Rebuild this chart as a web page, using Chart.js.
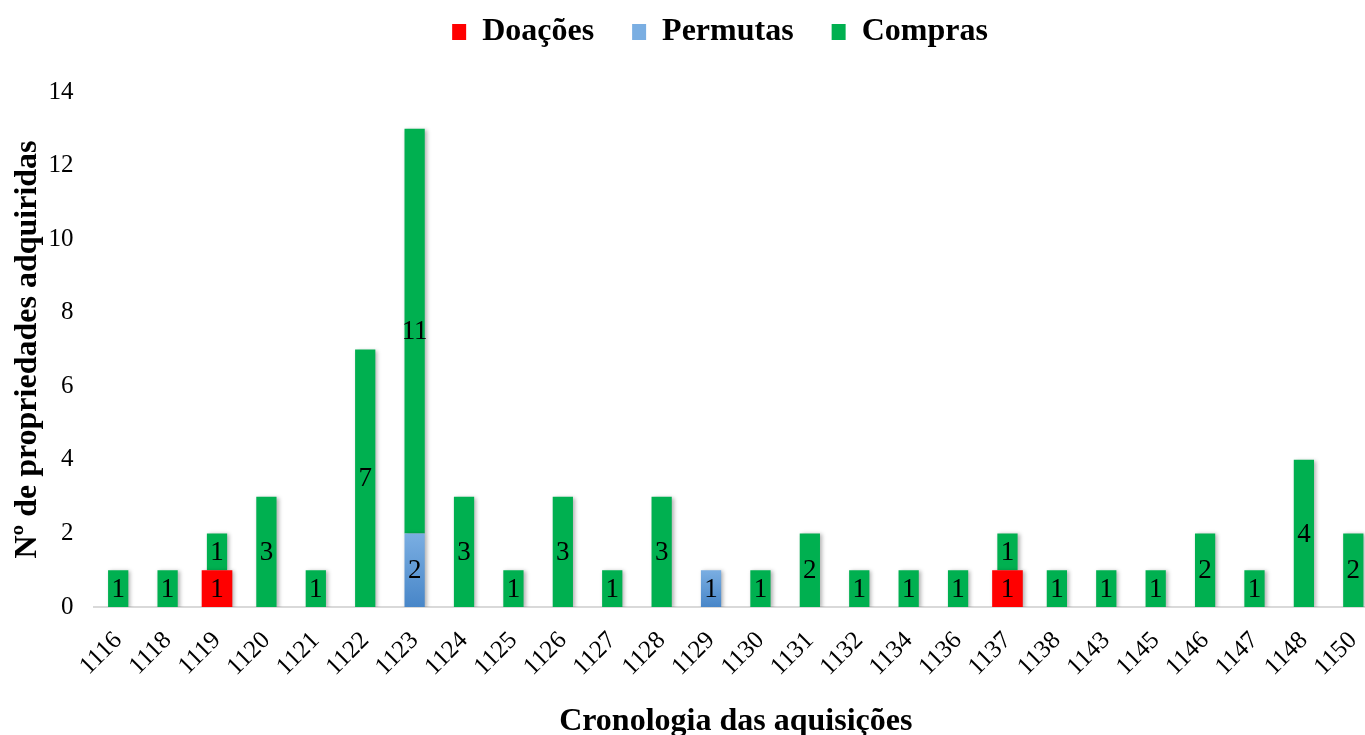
<!DOCTYPE html>
<html>
<head>
<meta charset="utf-8">
<script src="https://cdn.jsdelivr.net/npm/chart.js@4/dist/chart.umd.min.js"></script>
<style>
    html, body { margin: 0; padding: 0; background: #fff; overflow: hidden; }
    #wrap { width: 1380px; height: 735px; }
</style>
</head>
<body>
<div id="wrap"><canvas id="chart" width="1380" height="735"></canvas></div>
<script>
const anos = ['1116', '1118', '1119', '1120', '1121', '1122', '1123', '1124', '1125', '1126', '1127', '1128', '1129',
    '1130', '1131', '1132', '1134', '1136', '1137', '1138', '1143', '1145', '1146', '1147', '1148', '1150'];
const doacoes  = [0, 0, 1, 0, 0, 0, 0, 0, 0, 0, 0, 0, 0, 0, 0, 0, 0, 0, 1, 0, 0, 0, 0, 0, 0, 0];
const permutas = [0, 0, 0, 0, 0, 0, 2, 0, 0, 0, 0, 0, 1, 0, 0, 0, 0, 0, 0, 0, 0, 0, 0, 0, 0, 0];
const compras  = [1, 1, 1, 3, 1, 7, 11, 3, 1, 3, 1, 3, 0, 1, 2, 1, 1, 1, 1, 1, 1, 1, 2, 1, 4, 2];

const serif = '"Liberation Serif", "Times New Roman", serif';

function permutaColor(context) {
    const chart = context.chart;
    if (context.dataIndex === undefined || !chart.chartArea) return '#5b9bd5';
    const y = chart.scales.y;
    const v = permutas[context.dataIndex] || 1;
    const g = chart.ctx.createLinearGradient(0, y.getPixelForValue(v), 0, y.getPixelForValue(0));
    g.addColorStop(0, '#7aaee2');
    g.addColorStop(1, '#4886c8');
    return g;
}

// sombra nas barras + números dentro de cada segmento
const barExtras = {
    id: 'barExtras',
    afterLayout(chart) {
        const lg = chart.legend;
        lg.left += 25; lg.right += 25;
        lg.top -= 34; lg.bottom -= 34;
    },
    beforeDatasetsDraw(chart) {
        const ctx = chart.ctx;
        ctx.save();
        ctx.shadowColor = 'rgba(0,0,0,0.3)';
        ctx.shadowBlur = 4;
        ctx.shadowOffsetX = 2;
        ctx.shadowOffsetY = 1;
    },
    afterDatasetsDraw(chart) {
        const ctx = chart.ctx;
        ctx.restore();
        ctx.save();
        ctx.font = '27px ' + serif;
        ctx.fillStyle = '#000';
        ctx.textAlign = 'center';
        ctx.textBaseline = 'middle';
        chart.data.datasets.forEach((ds, i) => {
            chart.getDatasetMeta(i).data.forEach((bar, j) => {
                if (!ds.data[j]) return;
                ctx.fillText(ds.data[j], bar.x, (bar.y + bar.base) / 2 + 1);
            });
        });
        ctx.restore();
    }
};

new Chart(document.getElementById('chart').getContext('2d'), {
    type: 'bar',
    data: {
        labels: anos,
        datasets: [
            { label: 'Doações', data: doacoes, backgroundColor: '#ff0000', borderWidth: 0,
              categoryPercentage: 1, barPercentage: 0.62 },
            { label: 'Permutas', data: permutas, backgroundColor: permutaColor, borderWidth: 0,
              categoryPercentage: 1, barPercentage: 0.41 },
            { label: 'Compras', data: compras, backgroundColor: '#00b050', borderWidth: 0,
              categoryPercentage: 1, barPercentage: 0.41 }
        ]
    },
    options: {
        responsive: false,
        animation: false,
        layout: { padding: { top: 12, right: 2, bottom: 0, left: 12 } },
        plugins: {
            legend: {
                position: 'top',
                labels: {
                    color: '#000',
                    font: { family: serif, size: 32, weight: 'bold' },
                    boxWidth: 14,
                    boxHeight: 16,
                    padding: 38
                }
            },
            tooltip: { enabled: false }
        },
        scales: {
            x: {
                stacked: true,
                grid: { display: false, drawTicks: false },
                border: { display: true, color: '#d9d9d9', width: 2 },
                ticks: {
                    color: '#000',
                    font: { family: serif, size: 25 },
                    minRotation: 45,
                    maxRotation: 45,
                    padding: 19,
                    autoSkip: false
                },
                title: {
                    display: true,
                    text: 'Cronologia das aquisições',
                    color: '#000',
                    font: { family: serif, size: 32, weight: 'bold', lineHeight: 1 },
                    padding: { top: 0, bottom: -3 }
                },
                beforeFit(scale) {
                    // rótulos inclinados não empurram a área do gráfico
                    scale._calculatePadding = function () {
                        this.paddingLeft = 0;
                        this.paddingRight = 0;
                    };
                },
                afterFit(scale) {
                    scale.height = 128;
                }
            },
            y: {
                stacked: true,
                min: 0,
                max: 14,
                grid: { display: false, drawTicks: false },
                border: { display: false },
                ticks: {
                    stepSize: 2,
                    color: '#000',
                    font: { family: serif, size: 25 },
                    padding: 20
                },
                title: {
                    display: true,
                    text: 'Nº de propriedades adquiridas',
                    color: '#000',
                    font: { family: serif, size: 32, weight: 'bold', lineHeight: 1 },
                    padding: { top: 0, bottom: 4 }
                },
                afterFit(scale) {
                    scale.width = 81.5;
                }
            }
        }
    },
    plugins: [barExtras]
});
</script>
</body>
</html>
